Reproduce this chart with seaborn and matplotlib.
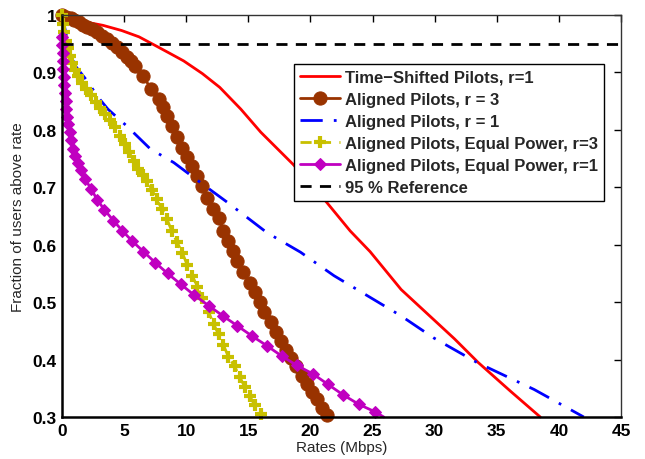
import numpy as np
import pandas as pd
import matplotlib
matplotlib.use("Agg")
import matplotlib.pyplot as plt
import seaborn as sns

# --- Données ---
# Time-Shifted Pilots, r=1
x_ts = [0, 0.65, 2.1, 3.3, 4.8, 6.2, 7.5, 8.7, 9.8, 11.3, 12.7, 14.4, 16.0, 17.3,
        18.6, 20.0, 21.3, 23.2, 24.8, 27.3, 29.5, 31.6, 33.5, 36.1, 38.5]
y_ts = [1.0, 0.99, 0.987, 0.982, 0.973, 0.962, 0.947, 0.933, 0.920, 0.898, 0.874,
        0.836, 0.796, 0.768, 0.740, 0.707, 0.674, 0.624, 0.588, 0.522, 0.478,
        0.436, 0.395, 0.345, 0.30]

# Aligned Pilots, r = 3
x_al3 = [0, 0.35, 0.7, 1.0, 1.35, 1.7, 2.05, 2.4, 2.8, 3.2, 3.6, 4.0, 4.4, 4.8,
         5.2, 5.55, 5.9, 6.5, 7.2, 7.8, 8.1, 8.45, 8.85, 9.25, 9.65, 10.05, 10.46,
         10.86, 11.27, 11.67, 12.15, 12.6, 13.0, 13.4, 13.8, 14.1, 14.6, 15.1,
         15.5, 15.9, 16.3, 16.8, 17.2, 17.6, 18.0, 18.4, 18.8, 19.3, 19.7, 20.1,
         20.5, 20.9, 21.3]
y_al3 = [1.0, 0.997, 0.994, 0.991, 0.987, 0.983, 0.979, 0.975, 0.970, 0.964, 0.958,
         0.951, 0.944, 0.936, 0.927, 0.920, 0.912, 0.894, 0.871, 0.854, 0.840,
         0.825, 0.807, 0.787, 0.769, 0.752, 0.737, 0.720, 0.703, 0.682, 0.663,
         0.646, 0.624, 0.607, 0.589, 0.572, 0.552, 0.534, 0.518, 0.500, 0.482,
         0.465, 0.448, 0.433, 0.417, 0.402, 0.388, 0.372, 0.358, 0.344, 0.331,
         0.316, 0.303]

# Aligned Pilots, r = 1
x_al1 = [0, 0.4, 1.05, 2.0, 2.9, 3.7, 5.2, 7.1, 9.0, 11.1, 13.3, 16.5, 19.2, 21.9,
         24.6, 27.3, 29.9, 33.4, 38.0, 42.0]
y_al1 = [1.0, 0.96, 0.912, 0.886, 0.857, 0.836, 0.807, 0.767, 0.743, 0.709, 0.674,
         0.621, 0.587, 0.546, 0.511, 0.476, 0.438, 0.395, 0.348, 0.30]

# Aligned Pilots, Equal Power, r=3
x_ep3 = [0, 0.08, 0.18, 0.3, 0.45, 0.62, 0.82, 1.05, 1.3, 1.6, 1.95, 2.3, 2.7, 3.1,
         3.5, 3.9, 4.3, 4.68, 5.05, 5.4, 5.78, 6.15, 6.5, 6.88, 7.25, 7.63, 8.04,
         8.44, 8.84, 9.25, 9.7, 10.1, 10.5, 10.9, 11.3, 11.8, 12.2, 12.6, 13.0,
         13.4, 13.9, 14.3, 14.7, 15.1, 15.5, 16.0]
y_ep3 = [1.0, 0.985, 0.970, 0.955, 0.942, 0.929, 0.916, 0.904, 0.893, 0.882, 0.871,
         0.860, 0.849, 0.838, 0.828, 0.817, 0.805, 0.790, 0.776, 0.761, 0.746,
         0.732, 0.721, 0.711, 0.695, 0.679, 0.662, 0.645, 0.624, 0.605, 0.585,
         0.564, 0.546, 0.526, 0.508, 0.483, 0.462, 0.444, 0.425, 0.405, 0.388,
         0.370, 0.353, 0.337, 0.321, 0.305]

# Aligned Pilots, Equal Power, r=1
x_ep1 = [0.0, 0.03, 0.06, 0.09, 0.12, 0.16, 0.20, 0.25, 0.30, 0.36, 0.43, 0.52,
         0.62, 0.75, 0.91, 1.08, 1.25, 1.53, 1.88, 2.34, 2.85, 3.41, 4.14, 4.87,
         5.67, 6.56, 7.5, 8.5, 9.57, 10.6, 11.8, 12.96, 14.1, 15.3, 16.5, 17.7,
         18.9, 20.2, 21.4, 22.6, 23.9, 25.2]
y_ep1 = [0.962, 0.948, 0.934, 0.920, 0.906, 0.892, 0.878, 0.864, 0.850, 0.836,
         0.823, 0.810, 0.797, 0.783, 0.767, 0.754, 0.743, 0.730, 0.714, 0.697,
         0.678, 0.661, 0.642, 0.624, 0.606, 0.588, 0.569, 0.550, 0.531, 0.513,
         0.494, 0.476, 0.459, 0.441, 0.424, 0.406, 0.390, 0.375, 0.357, 0.339,
         0.322, 0.309]
x_ep1_end = [25.2, 25.9]
y_ep1_end = [0.309, 0.30]

ref_level = 0.95
x_ticks = [0, 5, 10, 15, 20, 25, 30, 35, 40, 45]
y_ticks = [0.3, 0.4, 0.5, 0.6, 0.7, 0.8, 0.9, 1.0]
y_ticklabels = ["0.3", "0.4", "0.5", "0.6", "0.7", "0.8", "0.9", "1"]

labels = ["Time\u2212Shifted Pilots, r=1", "Aligned Pilots, r = 3", "Aligned Pilots, r = 1",
          "Aligned Pilots, Equal Power, r=3", "Aligned Pilots, Equal Power, r=1",
          "95 % Reference"]

# --- Style ---
sns.set_style("white")
plt.rcParams['font.family'] = ['Liberation Sans', 'DejaVu Sans']

fig = plt.figure(figsize=(6.45, 4.6), dpi=100)
ax = fig.add_axes([0.0961, 0.0913, 0.8667, 0.8739])

red, brown, blue, yellow, magenta = "#FF0000", "#993300", "#0000FF", "#C8C000", "#C000C0"

sns.lineplot(x=x_ts, y=y_ts, ax=ax, color=red, linewidth=2, sort=False,
             estimator=None, label=labels[0], clip_on=False)
sns.lineplot(x=x_al3, y=y_al3, ax=ax, color=brown, linewidth=2, marker='o',
             markersize=9.5, markeredgecolor=brown, sort=False, estimator=None,
             label=labels[1], clip_on=False)
sns.lineplot(x=x_al1, y=y_al1, ax=ax, color=blue, linewidth=2, linestyle=(0, (8, 4, 1, 4)),
             sort=False, estimator=None, label=labels[2], clip_on=False)
sns.lineplot(x=x_ep3, y=y_ep3, ax=ax, color=yellow, linewidth=2, linestyle=(0, (4, 3)),
             marker='+', markersize=9, markeredgewidth=3, markeredgecolor=yellow,
             sort=False, estimator=None, label=labels[3], clip_on=False)
sns.lineplot(x=x_ep1, y=y_ep1, ax=ax, color=magenta, linewidth=2, marker='D',
             markersize=6.5, markeredgecolor=magenta, sort=False, estimator=None,
             label=labels[4], clip_on=False)
ax.plot(x_ep1_end, y_ep1_end, color=magenta, linewidth=2, clip_on=False)
ax.axhline(ref_level, color='black', linewidth=2, linestyle=(0, (4, 3)), label=labels[5])

ax.set_xlim(0, 45)
ax.set_ylim(0.3, 1.0)
ax.set_xticks(x_ticks)
ax.set_yticks(y_ticks)
ax.set_yticklabels(y_ticklabels)
ax.tick_params(direction='in', length=5, width=1, top=True, right=True,
               labelsize=12.5, pad=4, colors='black')
for lab in ax.get_xticklabels() + ax.get_yticklabels():
    lab.set_fontweight('bold')
for side in ['left', 'bottom']:
    ax.spines[side].set_linewidth(1.8)
    ax.spines[side].set_color('black')
for side in ['top', 'right']:
    ax.spines[side].set_linewidth(1.0)
    ax.spines[side].set_color('#333333')

ax.set_xlabel("Rates (Mbps)", fontsize=11, labelpad=2)
ax.set_ylabel("Fraction of users above rate", fontsize=11, labelpad=5)

leg = ax.legend(loc='upper right', bbox_to_anchor=(0.9696, 0.878), borderaxespad=0,
                fancybox=False, framealpha=1, edgecolor='black', handlelength=2.4,
                handletextpad=0.3, borderpad=0.35, labelspacing=0.42,
                prop={'weight': 'bold', 'size': 12})
leg.get_frame().set_linewidth(1.0)
leg.set_zorder(10)

fig.savefig("out.png", dpi=100)
